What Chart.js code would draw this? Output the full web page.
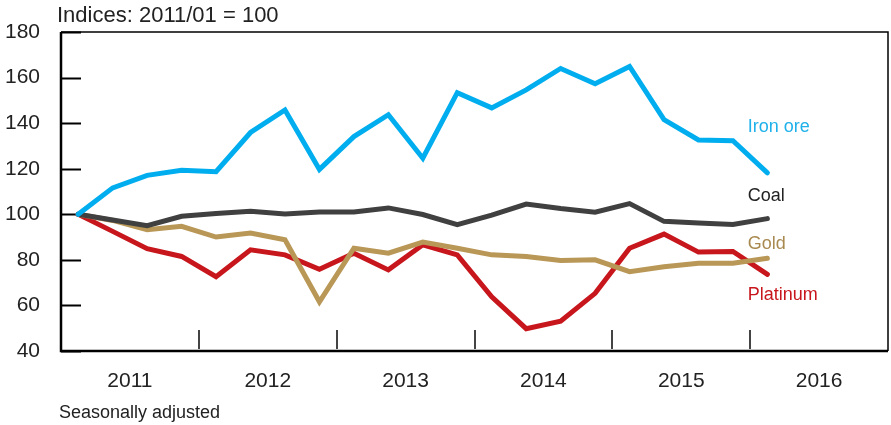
<!DOCTYPE html>
<html lang="en">
<head>
  <meta charset="UTF-8" />
  <title>Commodity prices</title>
  <script src="https://cdn.jsdelivr.net/npm/chart.js@4"></script>
  <style>
    body { margin: 0; background: #fff; }
    #wrap { width: 891px; height: 425px; position: relative; }
  </style>
</head>
<body>
  <div id="wrap"><canvas id="priceChart" width="891" height="425"></canvas></div>

  <script>
    // quarterly observations, 2011/Q1 .. 2016/Q1
    const quarters = ['2011Q1','2011Q2','2011Q3','2011Q4','2012Q1','2012Q2','2012Q3','2012Q4',
      '2013Q1','2013Q2','2013Q3','2013Q4','2014Q1','2014Q2','2014Q3','2014Q4',
      '2015Q1','2015Q2','2015Q3','2015Q4','2016Q1'];
    const ironOre = [100, 111.6, 117.1, 119.3, 118.7, 135.9, 145.8, 119.7, 134.1, 143.7, 124.6,
      153.4, 146.7, 154.6, 164.0, 157.3, 164.9, 141.5, 132.6, 132.3, 118.2];
    const coal = [100, 97.5, 95.0, 99.1, 100.3, 101.3, 100.1, 101.0, 101.0, 102.8, 99.9,
      95.4, 99.6, 104.5, 102.5, 100.9, 104.7, 96.9, 96.2, 95.5, 98.1];
    const gold = [100, 97.3, 93.2, 94.7, 90.0, 91.8, 88.8, 61.6, 85.1, 82.9, 87.8,
      85.1, 82.2, 81.5, 79.7, 80.0, 74.8, 77.0, 78.5, 78.5, 80.7];
    const platinum = [100, 92.5, 84.9, 81.5, 72.6, 84.4, 82.2, 75.9, 82.9, 75.6, 86.6,
      82.2, 63.8, 49.8, 53.1, 65.3, 85.1, 91.3, 83.4, 83.7, 73.6];
    const yearLabels = ['2011', '2012', '2013', '2014', '2015', '2016'];
    const yTicks = [40, 60, 80, 100, 120, 140, 160, 180];
    const seriesNames = ['Iron ore', 'Coal', 'Gold', 'Platinum'];

    const colours = ['#00aeef', '#404040', '#b99756', '#c8161d'];
    const textColours = ['#1fb1ea', '#222222', '#a8894f', '#c8161d'];
    // where the series names sit, in axis units (quarter index, index value)
    const namePos = [[19.93, 138.5], [19.93, 108], [19.93, 87], [19.93, 64.6]];

    const FONT = '"Liberation Sans", Arial, sans-serif';
    const toPoints = arr => arr.map((v, i) => ({ x: i + 0.5, y: v }));

    const decorations = {
      id: 'decorations',
      beforeDatasetsDraw(chart) {
        const { ctx, chartArea: a, scales: { x, y } } = chart;
        ctx.save();
        // inner y ticks
        ctx.strokeStyle = '#000';
        ctx.lineWidth = 2;
        yTicks.forEach(v => {
          const py = Math.round(y.getPixelForValue(v)) + 0.5;
          ctx.beginPath(); ctx.moveTo(a.left, py); ctx.lineTo(a.left + 20, py); ctx.stroke();
        });
        // year boundary marks
        ctx.strokeStyle = '#444';
        for (let i = 1; i < yearLabels.length; i++) {
          const px = Math.round(x.getPixelForValue(i * 4));
          ctx.beginPath(); ctx.moveTo(px, a.bottom - 21); ctx.lineTo(px, a.bottom - 2); ctx.stroke();
        }
        ctx.restore();
      },
      afterDraw(chart) {
        const { ctx, chartArea: a, scales: { x, y } } = chart;
        ctx.save();
        // frame
        ctx.strokeStyle = '#000';
        ctx.lineWidth = 1.5;
        ctx.beginPath();
        ctx.moveTo(a.left, a.top); ctx.lineTo(a.right, a.top); ctx.lineTo(a.right, a.bottom);
        ctx.stroke();
        ctx.lineWidth = 2.5;
        ctx.beginPath();
        ctx.moveTo(a.left, a.top); ctx.lineTo(a.left, a.bottom); ctx.lineTo(a.right, a.bottom);
        ctx.stroke();

        // series names
        ctx.font = '18px ' + FONT;
        ctx.textBaseline = 'middle';
        ctx.textAlign = 'left';
        seriesNames.forEach((n, i) => {
          ctx.fillStyle = textColours[i];
          ctx.fillText(n, x.getPixelForValue(namePos[i][0]), y.getPixelForValue(namePos[i][1]));
        });

        // header and footnote
        ctx.fillStyle = '#222';
        ctx.font = '22px ' + FONT;
        ctx.textBaseline = 'middle';
        ctx.fillText('Indices: 2011/01 = 100', 57, 16);
        ctx.font = '18px ' + FONT;
        ctx.fillText('Seasonally adjusted', 59, 413);
        ctx.restore();
      }
    };

    const datasets = [ironOre, coal, gold, platinum].map((arr, i) => ({
      label: seriesNames[i],
      data: toPoints(arr),
      borderColor: colours[i],
      borderWidth: 5,
      pointRadius: 0,
      tension: 0,
      borderCapStyle: 'round',
      fill: false
    }));

    new Chart(document.getElementById('priceChart'), {
      type: 'line',
      data: { datasets },
      options: {
        responsive: false,
        animation: false,
        layout: { padding: { left: 0, top: 32, right: 3, bottom: 0 } },
        plugins: { legend: { display: false }, tooltip: { enabled: false } },
        scales: {
          x: {
            type: 'linear',
            min: 0,
            max: quarters.length + 3,
            grid: { display: false },
            border: { display: false },
            afterBuildTicks: axis => {
              axis.ticks = yearLabels.map((_, i) => ({ value: i * 4 + 2 }));
            },
            afterFit: axis => { axis.height = 74; },
            ticks: {
              autoSkip: false,
              maxRotation: 0,
              padding: 10,
              color: '#222',
              font: { family: FONT, size: 21 },
              callback: v => yearLabels[(v - 2) / 4]
            }
          },
          y: {
            min: 40,
            max: 180,
            grid: { display: false },
            border: { display: false },
            afterBuildTicks: axis => { axis.ticks = yTicks.map(v => ({ value: v })); },
            afterFit: axis => { axis.width = 61; },
            ticks: {
              padding: 13,
              color: '#222',
              font: { family: FONT, size: 21 }
            }
          }
        }
      },
      plugins: [decorations]
    });
  </script>
</body>
</html>
